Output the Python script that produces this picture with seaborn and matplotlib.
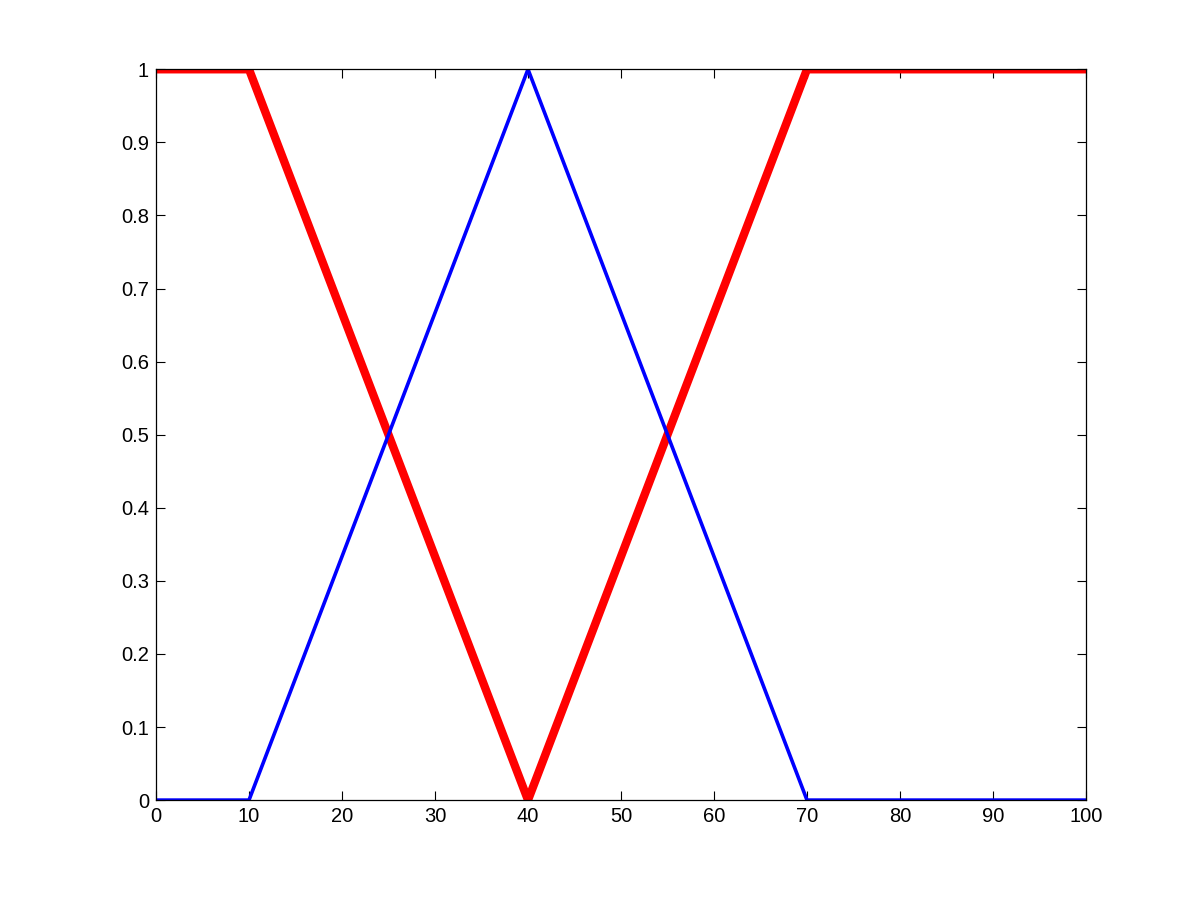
import matplotlib
matplotlib.use("Agg")
import matplotlib.pyplot as plt
import seaborn as sns
import pandas as pd

# Data
x_points = [0, 10, 40, 70, 100]
outer_mf = [1, 1, 0, 1, 1]
middle_mf = [0, 0, 1, 0, 0]

x_ticks = [0, 10, 20, 30, 40, 50, 60, 70, 80, 90, 100]
y_ticks = [0, 0.1, 0.2, 0.3, 0.4, 0.5, 0.6, 0.7, 0.8, 0.9, 1]
y_tick_labels = ["0", "0.1", "0.2", "0.3", "0.4", "0.5", "0.6", "0.7", "0.8", "0.9", "1"]

df = pd.DataFrame({"x": x_points, "outer": outer_mf, "middle": middle_mf})

sns.set_style("white")
plt.rcParams['font.family'] = ['Liberation Sans', 'DejaVu Sans']

fig = plt.figure(figsize=(12, 9), dpi=100)
ax = fig.add_axes([0.13, 0.111, 0.775, 0.812])

sns.lineplot(x="x", y="outer", data=df, ax=ax, color="#ff0000", linewidth=6, sort=False)
sns.lineplot(x="x", y="middle", data=df, ax=ax, color="#0000ff", linewidth=2.6, sort=False)

ax.set_xlim(0, 100)
ax.set_ylim(0, 1)
ax.set_xticks(x_ticks)
ax.set_yticks(y_ticks)
ax.set_yticklabels(y_tick_labels)
ax.set_xlabel("")
ax.set_ylabel("")
ax.tick_params(direction="in", length=6.5, width=0.8, labelsize=14.5, colors="black",
               top=True, right=True, bottom=True, left=True, pad=5)
for s in ax.spines.values():
    s.set_visible(True)
    s.set_color("black")
    s.set_linewidth(0.9)

fig.savefig("out.png", dpi=100, facecolor="white")
